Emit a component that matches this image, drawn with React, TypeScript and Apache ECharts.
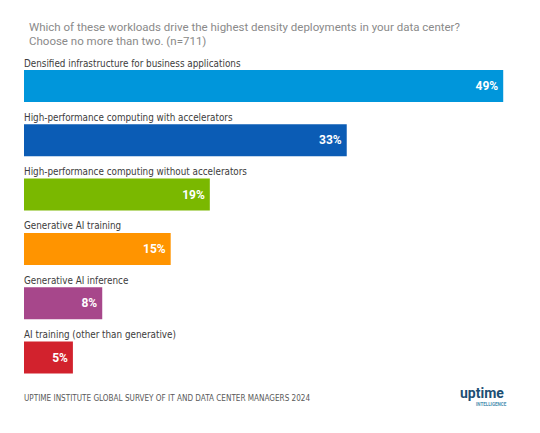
import { useEffect, useRef } from 'react'
import * as echarts from 'echarts'

const categories = [
  'Densified infrastructure for business applications',
  'High-performance computing with accelerators',
  'High-performance computing without accelerators',
  'Generative AI training',
  'Generative AI inference',
  'AI training (other than generative)',
]
const values = [49, 33, 19, 15, 8, 5]
const colors = ['#0096db', '#0b5cb5', '#7ab800', '#ff9400', '#a7478b', '#d2222d']

const titleText =
  'Which of these workloads drive the highest density deployments in your data center?\nChoose no more than two. (n=711)'
const sourceText = 'UPTIME INSTITUTE GLOBAL SURVEY OF IT AND DATA CENTER MANAGERS 2024'

const narrow = "'Liberation Sans Narrow', 'DejaVu Sans Condensed', sans-serif"

export default function App() {
  const ref = useRef<HTMLDivElement | null>(null)

  useEffect(() => {
    if (!ref.current) return
    document.body.style.margin = '0'
    const chart = echarts.init(ref.current, null, { renderer: 'svg' })
    chart.setOption({
      animation: false,
      backgroundColor: '#ffffff',
      title: {
        text: titleText,
        left: 24,
        top: 15,
        textStyle: {
          fontFamily: 'Roboto, sans-serif',
          fontSize: 11.5,
          fontWeight: 'normal',
          color: '#8a8a8a',
          lineHeight: 14,
        },
      },
      grid: { left: 24, right: 27, top: 58.85, bottom: 48.35 },
      xAxis: { type: 'value', min: 0, max: 50, show: false },
      yAxis: { type: 'category', data: categories, inverse: true, show: false },
      series: [
        {
          type: 'bar',
          barWidth: 32,
          data: values.map((v, i) => ({ value: v, itemStyle: { color: colors[i] } })),
          label: {
            show: true,
            position: 'insideRight',
            distance: 5,
            formatter: '{c}%',
            color: '#ffffff',
            fontFamily: 'Roboto, sans-serif',
            fontWeight: 'bold',
            fontSize: 12,
          },
          z: 2,
        },
        {
          type: 'bar',
          barWidth: 32,
          barGap: '-100%',
          silent: true,
          itemStyle: { color: 'transparent' },
          data: values,
          label: {
            show: true,
            position: [0, -7],
            align: 'left',
            verticalAlign: 'middle',
            formatter: '{b}',
            color: '#3c3c3c',
            fontFamily: narrow,
            fontSize: 9.8,
          },
          z: 3,
        },
      ],
      graphic: [
        {
          type: 'text',
          left: 24,
          top: 394,
          style: {
            text: sourceText,
            fill: '#5a5a5a',
            font: `8.1px ${narrow}`,
          },
        },
        {
          type: 'text',
          left: 460,
          top: 386,
          style: {
            text: 'uptime',
            fill: '#1d4f74',
            font: 'bold 14px Roboto, sans-serif',
          },
        },
        {
          type: 'text',
          left: 476,
          top: 402,
          style: {
            text: 'INTELLIGENCE',
            fill: '#4a8fb0',
            font: 'bold 4.5px Roboto, sans-serif',
          },
        },
      ],
    })

    return () => {
      chart.dispose()
    }
  }, [])

  return <div ref={ref} style={{ width: 540, height: 433 }} />
}
